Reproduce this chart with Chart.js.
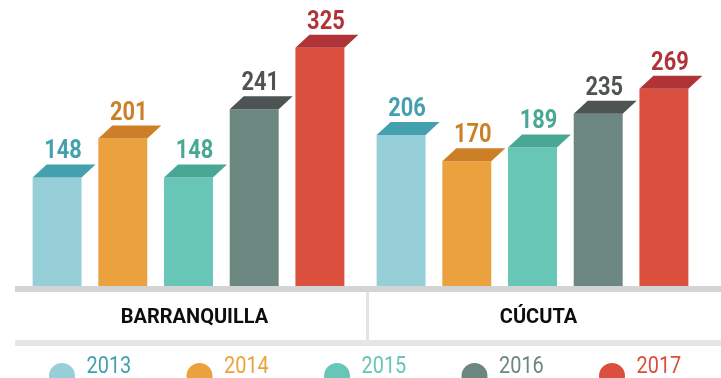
<!DOCTYPE html>
<html>
<head>
<meta charset="utf-8">
<script src="https://cdn.jsdelivr.net/npm/chart.js@4/dist/chart.umd.min.js"></script>
<style>
  html, body { margin: 0; padding: 0; background: #ffffff; }
  #wrap { width: 721px; height: 378px; }
</style>
</head>
<body>
<div id="wrap"><canvas id="chart" width="721" height="378"></canvas></div>
<script>
// Cities and years
const cities = ['BARRANQUILLA', 'CÚCUTA'];
const years = ['2013', '2014', '2015', '2016', '2017'];

// Values per year, one entry per city
const values2013 = [148, 206];
const values2014 = [201, 170];
const values2015 = [148, 189];
const values2016 = [241, 235];
const values2017 = [325, 269];

// Front face, top face and legend text colours per year
const faceColors = ['#97cfd8', '#eba23e', '#67c6b5', '#6c8680', '#da4f3d'];
const topColors = ['#44a0ae', '#cd7f28', '#48a893', '#4e5453', '#b03338'];
const legendTextColors = ['#44a0ae', '#eba23e', '#67c6b5', '#6c8680', '#da4f3d'];

const series = [values2013, values2014, values2015, values2016, values2017];

const CAP_DX = 14;   // horizontal shift of the bar's top face
const CAP_DY = 13;   // height of the bar's top face

function condensedText(ctx, text, x, y, align, sx) {
  ctx.save();
  ctx.translate(x, y);
  ctx.scale(sx, 1);
  ctx.textAlign = align;
  ctx.textBaseline = 'alphabetic';
  ctx.fillText(text, 0, 0);
  ctx.restore();
}

// Top faces, value labels, axis bands and legend
const blockPlugin = {
  id: 'blocks',
  beforeDatasetsDraw(chart) {
    const { ctx, chartArea, width } = chart;
    const xs = chart.scales.x;
    const bandLeft = chartArea.left - 1.5;
    ctx.save();
    // upper band under the bars
    ctx.fillStyle = '#d3d4d6';
    ctx.fillRect(bandLeft, chartArea.bottom, width - bandLeft, 6);
    // lower band under the city names
    ctx.fillStyle = '#e5e6e8';
    ctx.fillRect(bandLeft, chartArea.bottom + 54, width - bandLeft, 6);
    // divider between the two cities
    const mid = (xs.getPixelForValue(0) + xs.getPixelForValue(1)) / 2 + 7;
    ctx.fillStyle = '#e2e3e5';
    ctx.fillRect(mid - 1.5, chartArea.bottom + 6, 3, 48);
    ctx.restore();
  },
  afterDatasetsDraw(chart) {
    const { ctx } = chart;
    chart.data.datasets.forEach((ds, di) => {
      const meta = chart.getDatasetMeta(di);
      meta.data.forEach((bar, i) => {
        const half = bar.width / 2;
        const l = bar.x - half, r = bar.x + half, t = bar.y;
        ctx.save();
        ctx.fillStyle = ds.topColor;
        ctx.beginPath();
        ctx.moveTo(l, t);
        ctx.lineTo(l + CAP_DX, t - CAP_DY);
        ctx.lineTo(r + CAP_DX, t - CAP_DY);
        ctx.lineTo(r, t);
        ctx.closePath();
        ctx.fill();
        ctx.font = 'bold 26px Roboto, "Liberation Sans", sans-serif';
        condensedText(ctx, String(ds.data[i]), bar.x + CAP_DX / 2 - 1, t - CAP_DY - 6, 'center', 0.84);
        ctx.restore();
      });
    });
  },
  afterDraw(chart) {
    const { ctx, chartArea } = chart;
    const center = (chartArea.left + chartArea.right) / 2 + 4.5;
    const step = 137.5;
    const n = chart.data.datasets.length;
    chart.data.datasets.forEach((ds, i) => {
      const itemC = center + (i - (n - 1) / 2) * step;
      ctx.save();
      ctx.fillStyle = ds.backgroundColor;
      ctx.beginPath();
      ctx.arc(itemC - 28, 376, 13, 0, Math.PI * 2);
      ctx.fill();
      ctx.fillStyle = ds.legendColor;
      ctx.font = '400 24px Roboto, "Liberation Sans", sans-serif';
      condensedText(ctx, ds.label, itemC - 3.5, 373, 'left', 0.83);
      ctx.restore();
    });
  }
};

new Chart(document.getElementById('chart'), {
  type: 'bar',
  data: {
    labels: cities,
    datasets: series.map((vals, i) => ({
      label: years[i],
      data: vals,
      backgroundColor: faceColors[i],
      topColor: topColors[i],
      legendColor: legendTextColors[i],
      borderWidth: 0
    }))
  },
  options: {
    responsive: false,
    animation: false,
    devicePixelRatio: 1,
    layout: { padding: { left: 16.5, right: 16.5, top: 0, bottom: 0 } },
    datasets: { bar: { categoryPercentage: 0.955, barPercentage: 0.745 } },
    scales: {
      x: {
        grid: { display: false, drawTicks: false },
        border: { display: false },
        ticks: {
          color: '#0d0d0d',
          padding: 20,
          labelOffset: 6,
          font: { family: 'Roboto, "Liberation Sans", sans-serif', size: 20, weight: 'bold' }
        },
        afterFit(scale) { scale.height = 92; }
      },
      y: { display: false, min: 0, max: 390 }
    },
    plugins: {
      legend: { display: false },
      tooltip: { enabled: false }
    }
  },
  plugins: [blockPlugin]
});
</script>
</body>
</html>
